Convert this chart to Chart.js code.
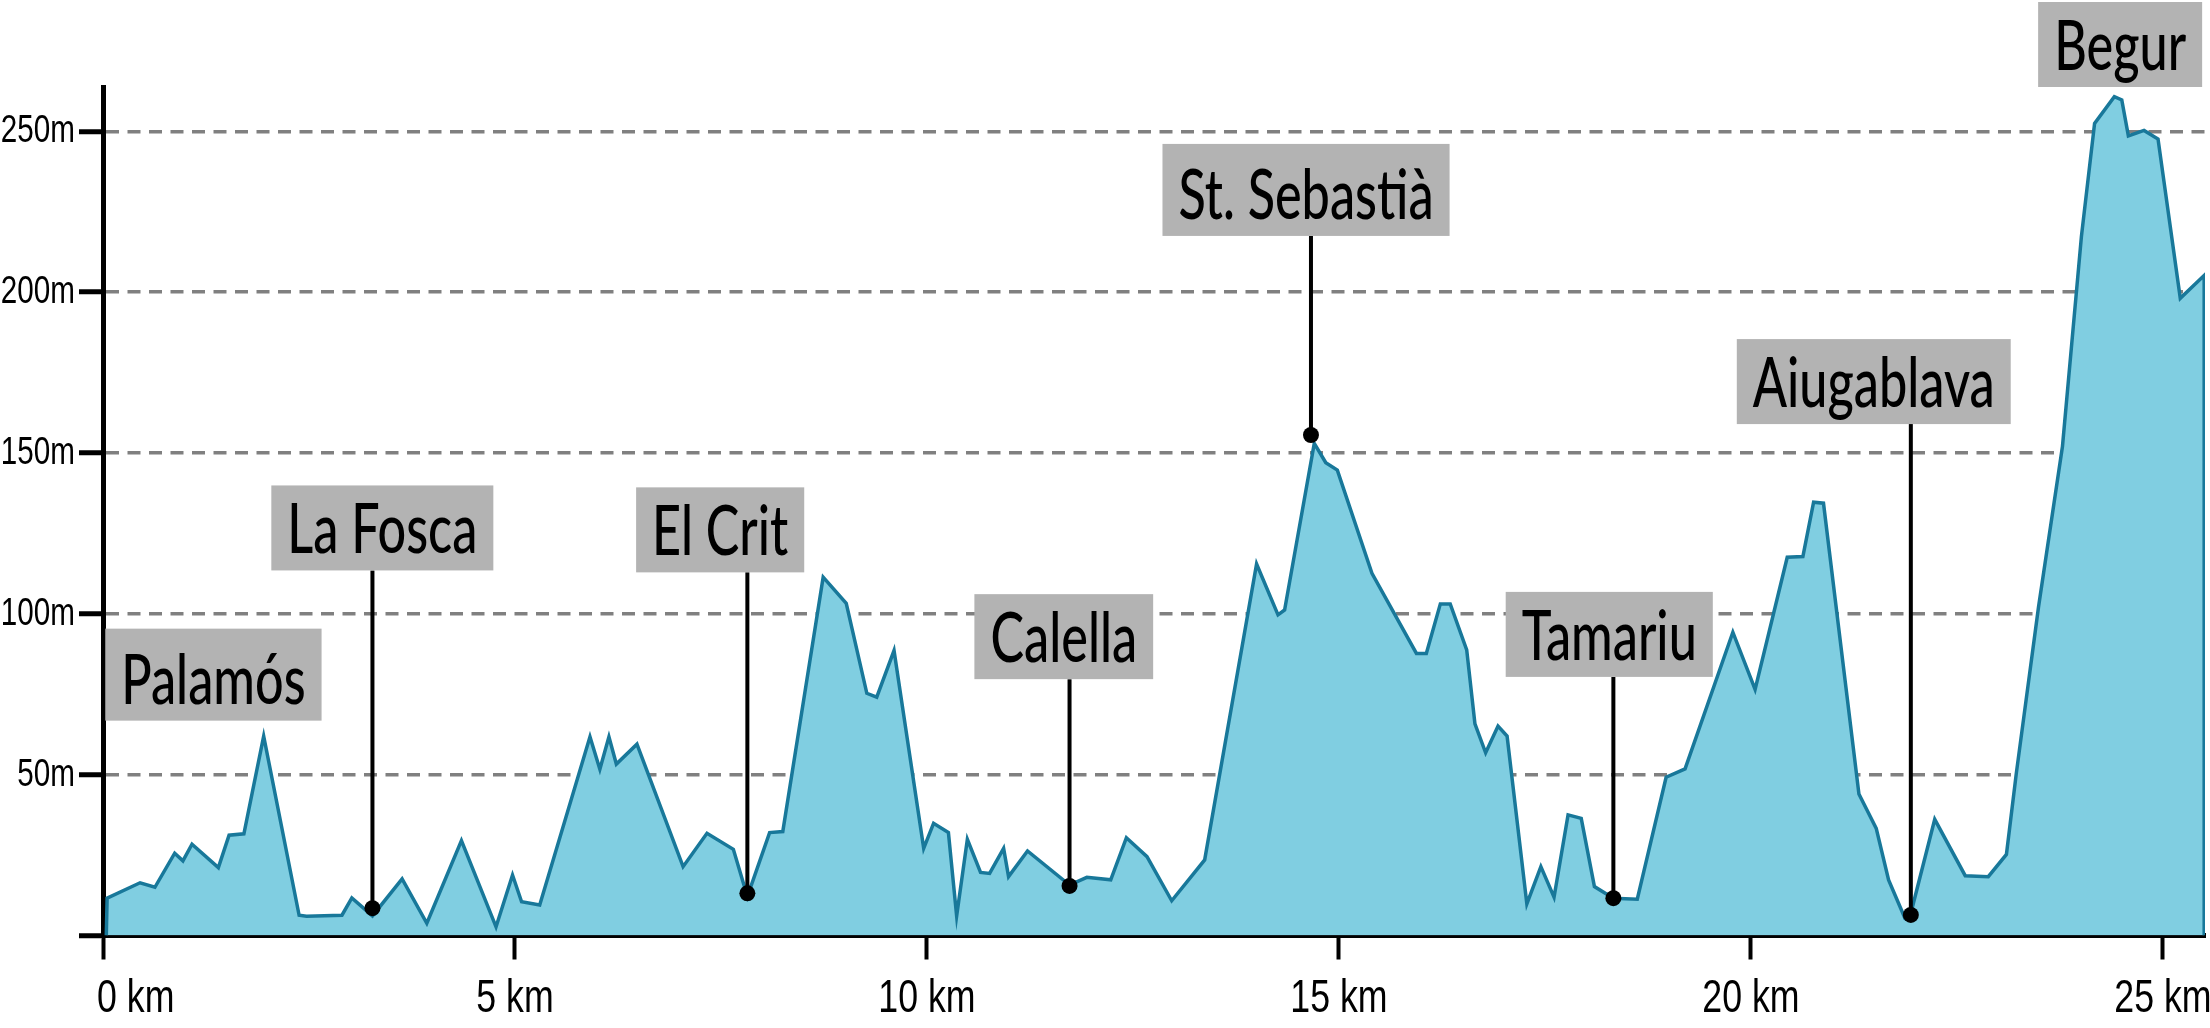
<!DOCTYPE html>
<html>
<head>
<meta charset="utf-8">
<script src="https://cdn.jsdelivr.net/npm/chart.js@4.4.1/dist/chart.umd.min.js"></script>
<style>
  html, body { margin: 0; padding: 0; background: #fff; }
  canvas { display: block; }
</style>
</head>
<body>
<canvas id="profile" width="2210" height="1028"></canvas>
<script>
// Distance along the route (km) and elevation (m)
const distKm = [
    0.04, 0.05, 0.45, 0.63, 0.87, 0.97, 1.08, 1.40, 1.53, 1.71,
    1.95, 2.38, 2.47, 2.90, 3.02, 3.27, 3.63, 3.93, 4.35, 4.77,
    4.97, 5.08, 5.30, 5.91, 6.03, 6.14, 6.23, 6.48, 7.04, 7.33,
    7.65, 7.82, 8.09, 8.25, 8.74, 9.02, 9.27, 9.39, 9.60, 9.96,
    10.08, 10.26, 10.36, 10.49, 10.65, 10.76, 10.93, 10.99, 11.22, 11.73,
    11.94, 12.23, 12.42, 12.67, 12.97, 13.37, 14.00, 14.26, 14.34, 14.70,
    14.84, 14.98, 15.40, 15.94, 16.06, 16.23, 16.35, 16.55, 16.65, 16.78,
    16.93, 17.04, 17.28, 17.45, 17.61, 17.78, 17.94, 18.10, 18.33, 18.62,
    18.97, 19.20, 19.78, 20.05, 20.44, 20.63, 20.76, 20.88, 21.31, 21.52,
    21.67, 21.87, 21.92, 22.23, 22.60, 22.88, 23.10, 23.22, 23.49, 23.78,
    24.01, 24.17, 24.41, 24.50, 24.58, 24.77, 24.94, 25.21, 25.50, 25.50
];
const elevM = [
    0, 11.6, 16.4, 15.0, 25.6, 23.2, 28.4, 21.1, 31.2, 31.6,
    62.0, 6.3, 6.0, 6.3, 11.7, 6.1, 17.6, 3.8, 29.5, 2.7,
    18.8, 10.5, 9.5, 61.8, 51.7, 61.8, 53.3, 59.5, 21.4, 31.8,
    26.8, 12.1, 32.0, 32.3, 111.4, 103.3, 75.3, 74.1, 88.6, 27.1,
    34.9, 32.0, 6.1, 29.9, 19.6, 19.3, 27.1, 18.3, 26.3, 15.7,
    18.1, 17.3, 30.4, 24.5, 10.8, 23.5, 115.5, 99.7, 101.2, 153.0,
    147.0, 144.7, 112.6, 87.7, 87.7, 103.1, 103.1, 88.8, 65.8, 56.8,
    65.1, 62.0, 9.8, 21.4, 11.9, 37.5, 36.4, 15.2, 11.6, 11.3,
    49.2, 51.8, 94.3, 76.5, 117.6, 117.8, 134.7, 134.4, 44.0, 33.3,
    17.3, 5.3, 4.9, 36.1, 18.6, 18.3, 25.2, 50.4, 102.2, 152.0,
    217.3, 252.5, 260.8, 259.8, 248.6, 250.3, 247.6, 198.1, 205.2, 0
];

// Axis ticks
const kmTicks = [0, 5, 10, 15, 20, 25];
const elevTicks = [0, 50, 100, 150, 200, 250];
const kmLabel = v => v + ' km';
const elevLabel = v => v === 0 ? '' : v + 'm';

// Places along the route
const placeNames = ['Palamós', 'La Fosca', 'El Crit', 'Calella', 'St. Sebastià', 'Tamariu', 'Aiugablava', 'Begur'];
const placeKm = [0, 3.27, 7.82, 11.73, 14.66, 18.33, 21.94, 24.48];
const placeElev = [11.6, 8.5, 13.1, 15.4, 155.6, 11.6, 6.4, 260.8];
const placePin = [false, true, true, true, true, true, true, false];
// where each name box sits: centre (km) and bottom edge (m)
const labelKm = [1.34, 3.39, 7.49, 11.66, 14.60, 18.28, 21.49, 24.48];
const labelAt = [66.8, 113.5, 112.9, 79.7, 217.5, 80.4, 159.0, 263.8];

const tickFace = '"Liberation Sans", Arial, sans-serif';
const squeeze = 0.72;     // place names are set in a narrow face
const tickSqueeze = 0.76; // so are the axis labels

const placeLabels = {
    id: 'placeLabels',
    afterDatasetsDraw(chart) {
        const { ctx, chartArea, scales: { x, y } } = chart;
        ctx.save();
        ctx.font = '500 70px Lato, sans-serif';
        placeNames.forEach((name, i) => {
            const bottom = y.getPixelForValue(labelAt[i]);
            const w = ctx.measureText(name).width * squeeze + 32;
            const h = /[^\x00-\x7f]/.test(name) ? 92 : 85;
            let left = x.getPixelForValue(labelKm[i]) - w / 2;
            if (left < chartArea.left + 2) left = chartArea.left + 2;

            if (placePin[i]) {
                const px = x.getPixelForValue(placeKm[i]);
                const py = y.getPixelForValue(placeElev[i]);
                ctx.strokeStyle = '#000';
                ctx.lineWidth = 4;
                ctx.beginPath();
                ctx.moveTo(px, bottom);
                ctx.lineTo(px, py);
                ctx.stroke();
                ctx.fillStyle = '#000';
                ctx.beginPath();
                ctx.arc(px, py, 8, 0, Math.PI * 2);
                ctx.fill();
            }

            ctx.fillStyle = '#b3b3b3';
            ctx.fillRect(left, bottom - h, w, h);

            ctx.save();
            ctx.translate(left + w / 2, bottom - 17);
            ctx.scale(squeeze, 1);
            ctx.fillStyle = '#000';
            ctx.textAlign = 'center';
            ctx.fillText(name, 0, 0);
            ctx.restore();
        });
        ctx.restore();
    }
};

// axis labels, drawn narrow at the scale positions
const tickLabels = {
    id: 'tickLabels',
    afterDraw(chart) {
        const { ctx, chartArea, scales: { x, y } } = chart;
        ctx.save();
        ctx.fillStyle = '#000';

        ctx.font = '39px ' + tickFace;
        ctx.textAlign = 'right';
        elevTicks.forEach(v => {
            ctx.save();
            ctx.translate(chartArea.left - 28, y.getPixelForValue(v) + 11);
            ctx.scale(tickSqueeze, 1);
            ctx.fillText(elevLabel(v), 0, 0);
            ctx.restore();
        });

        ctx.font = '47px ' + tickFace;
        ctx.textAlign = 'left';
        kmTicks.forEach(v => {
            const text = kmLabel(v);
            const w = ctx.measureText(text).width * tickSqueeze;
            const left = Math.max(x.getPixelForValue(v) - w / 2, chartArea.left - 6);
            ctx.save();
            ctx.translate(left, chartArea.bottom + 76);
            ctx.scale(tickSqueeze, 1);
            ctx.fillText(text, 0, 0);
            ctx.restore();
        });
        ctx.restore();
    }
};

const ctx = document.getElementById('profile').getContext('2d');

const profileChart = new Chart(ctx, {
    type: 'line',
    data: {
        datasets: [{
            data: distKm.map((d, i) => ({ x: d, y: elevM[i] })),
            fill: 'origin',
            backgroundColor: '#80cee1',
            borderColor: '#18789a',
            borderWidth: 3.5,
            pointRadius: 0,
            tension: 0
        }]
    },
    options: {
        responsive: false,
        animation: false,
        devicePixelRatio: 1,
        layout: { padding: { top: 87, right: 5, left: 0, bottom: 0 } },
        plugins: {
            legend: { display: false },
            tooltip: { enabled: false }
        },
        scales: {
            x: {
                type: 'linear',
                min: 0,
                max: 25.51,
                z: 1,
                afterBuildTicks: axis => { axis.ticks = kmTicks.map(v => ({ value: v })); },
                afterFit: axis => { axis.height = 92.5; },
                border: { color: '#000', width: 5 },
                grid: {
                    display: true,
                    drawOnChartArea: false,
                    drawTicks: true,
                    tickLength: 24,
                    tickColor: '#000',
                    tickWidth: 4
                },
                ticks: { display: false, autoSkip: false, maxRotation: 0, callback: kmLabel }
            },
            y: {
                min: 0,
                max: 263.8,
                afterBuildTicks: axis => { axis.ticks = elevTicks.map(v => ({ value: v })); },
                afterFit: axis => { axis.width = 103; },
                border: { color: '#000', width: 5, dash: [13, 8.5] },
                grid: {
                    color: c => (c.tick && c.tick.value === 0) ? 'rgba(0,0,0,0)' : '#808080',
                    lineWidth: 3.5,
                    tickLength: 24,
                    tickColor: '#000',
                    tickWidth: 5,
                    tickBorderDash: []
                },
                ticks: { display: false, callback: elevLabel }
            }
        }
    },
    plugins: [placeLabels, tickLabels]
});
</script>
</body>
</html>
